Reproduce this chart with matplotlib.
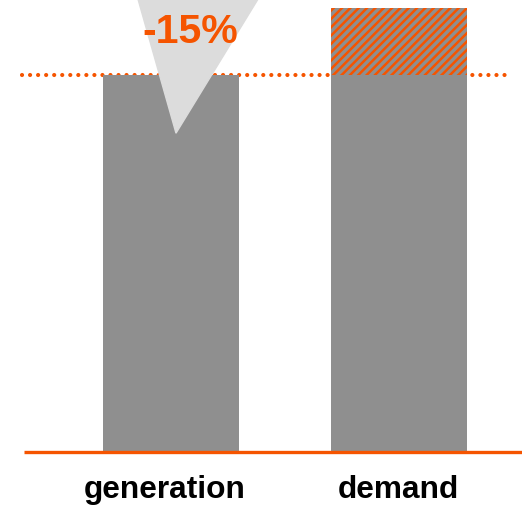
import matplotlib.pyplot as plt
from matplotlib.patches import Polygon

categories = ["generation", "demand"]
base_values = [85, 85]
extra_values = [0, 15]
ref_level = 85
change_label = "-15%"

gray = "#8f8f8f"
orange = "#f55400"

fig = plt.figure(figsize=(5.22, 5.06), dpi=100)
ax = fig.add_axes([0, 53 / 506, 1, 453 / 506])
ytop = 453 / 4.44
ax.set_xlim(-171 / 228, 351 / 228)
ax.set_ylim(0, ytop)
ax.axis("off")

x = list(range(len(categories)))
w = 136 / 228
ax.bar(x, base_values, width=w, color=gray, zorder=3)
plt.rcParams["hatch.linewidth"] = 1.8
ax.bar(x, extra_values, width=w, bottom=base_values, color=gray,
       edgecolor=orange, hatch="////", linewidth=0, zorder=3)

# dotted reference line at generation level
ax.plot([-0.653, 1.465], [ref_level, ref_level], color=orange, lw=3,
        linestyle=(0, (0.01, 1.92)), dash_capstyle="round", zorder=2)

# baseline
ax.plot([-0.645, 1.6], [0, 0], color=orange, lw=2.4, zorder=4,
        solid_capstyle="butt", clip_on=False)

# callout triangle
tri = Polygon([[-0.145, ytop], [0.382, ytop], [0.0219, 71.8]],
              closed=True, color="#dcdcdc", zorder=5)
ax.add_patch(tri)
ax.text(0.084, 94.9, change_label, color=orange, fontsize=29.5,
        fontweight="bold", family="Liberation Sans", ha="center",
        va="center", zorder=6)

ax.text(-0.026, -8.4, categories[0], fontsize=22.8, fontweight="bold",
        family="Liberation Sans", ha="center", va="center", clip_on=False)
ax.text(0.996, -8.4, categories[1], fontsize=22.8, fontweight="bold",
        family="Liberation Sans", ha="center", va="center", clip_on=False)

fig.savefig("out.png", dpi=100)
